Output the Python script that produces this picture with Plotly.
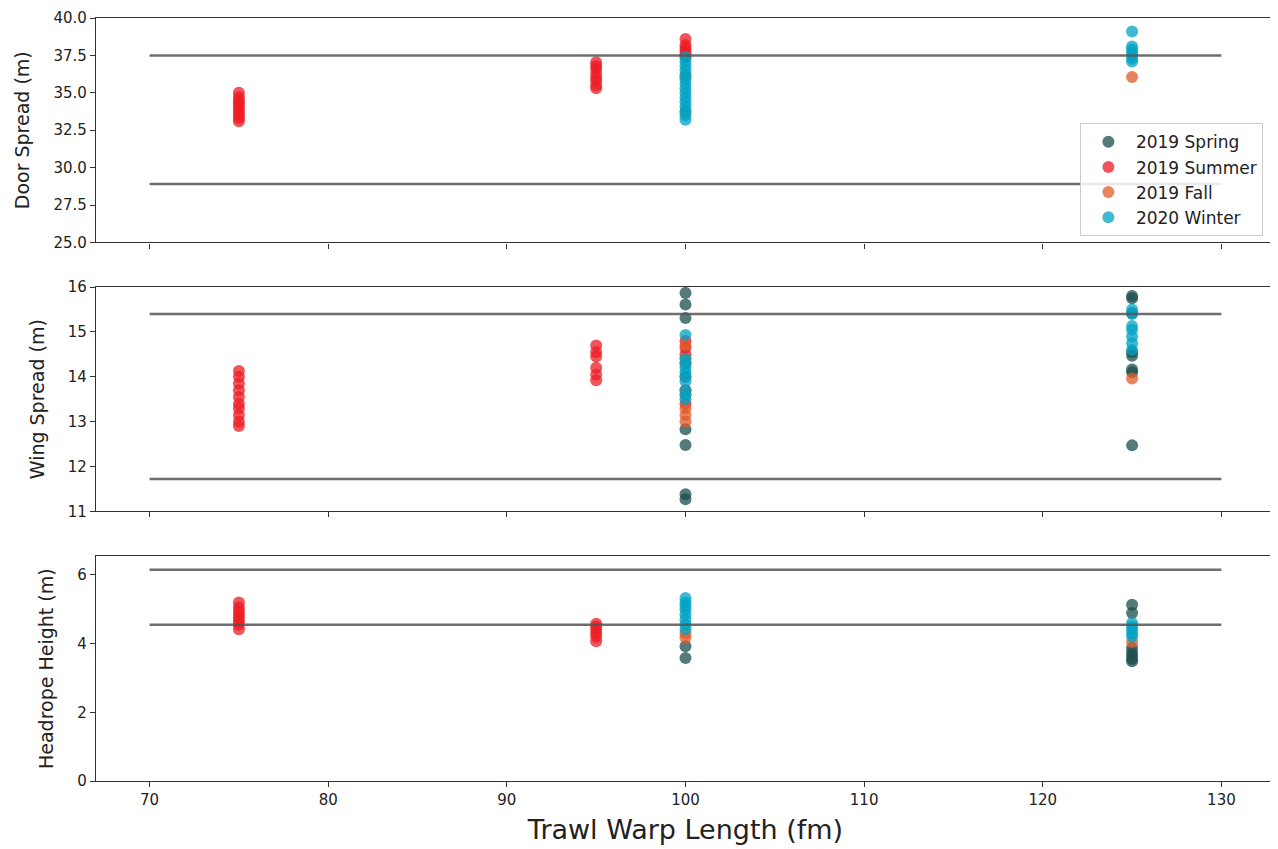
import plotly.graph_objects as go

# ---------------- data ----------------
seasons = ["2019 Spring", "2019 Summer", "2019 Fall", "2020 Winter"]
colors = ["#1b4d4d", "#ec1c24", "#e05b28", "#00a3c3"]

# Door spread (m)
door_spring_x = []
door_spring_y = []
door_summer_x = [75]*10 + [95]*8 + [100]*6
door_summer_y = [33.1, 33.3, 33.5, 33.7, 33.9, 34.1, 34.3, 34.5, 34.7, 35.0,
                 35.3, 35.5, 35.8, 36.0, 36.3, 36.6, 36.8, 37.05,
                 37.4, 37.6, 37.8, 38.0, 38.2, 38.6]
door_fall_x = [100, 100, 125]
door_fall_y = [33.7, 36.1, 36.05]
door_winter_x = [100]*15 + [125]*7
door_winter_y = [33.2, 33.5, 33.8, 34.1, 34.4, 34.7, 35.0, 35.3, 35.6, 35.9, 36.2, 36.5, 36.8, 37.1, 37.4,
                 37.1, 37.3, 37.5, 37.7, 37.9, 38.1, 39.1]

# Wing spread (m)
wing_spring_x = [100]*7 + [125]*8
wing_spring_y = [15.87, 15.61, 15.31, 12.83, 12.48, 11.38, 11.27,
                 15.8, 15.75, 15.42, 14.55, 14.47, 14.16, 14.1, 12.47]
wing_summer_x = [75]*10 + [95]*6 + [100]*7
wing_summer_y = [12.9, 13.0, 13.15, 13.3, 13.4, 13.55, 13.7, 13.85, 14.0, 14.13,
                 13.92, 14.05, 14.2, 14.45, 14.55, 14.7,
                 13.4, 13.7, 14.0, 14.3, 14.5, 14.65, 14.8]
wing_fall_x = [100]*6 + [125]
wing_fall_y = [13.0, 13.15, 13.3, 13.6, 14.4, 14.7, 13.96]
wing_winter_x = [100]*10 + [125]*7
wing_winter_y = [13.5, 13.6, 13.7, 13.9, 14.0, 14.1, 14.2, 14.3, 14.4, 14.93,
                 14.6, 14.75, 14.9, 15.05, 15.13, 15.4, 15.5]

# Headrope height (m)
head_spring_x = [100]*2 + [125]*7
head_spring_y = [3.92, 3.58, 5.13, 4.89, 3.88, 3.75, 3.65, 3.55, 3.49]
head_summer_x = [75]*8 + [95]*6
head_summer_y = [4.42, 4.55, 4.65, 4.75, 4.85, 4.95, 5.05, 5.2,
                 4.07, 4.2, 4.3, 4.4, 4.5, 4.58]
head_fall_x = [100, 100, 125]
head_fall_y = [4.17, 4.3, 4.05]
head_winter_x = [100]*8 + [125]*5
head_winter_y = [4.42, 4.55, 4.7, 4.85, 5.0, 5.1, 5.2, 5.33,
                 4.2, 4.3, 4.4, 4.5, 4.6]

# Reference limits
limit_x = [70, 130]
door_limits = [37.5, 28.9]
wing_limits = [15.4, 11.72]
head_limits = [6.15, 4.55]

x_ticks = [70, 80, 90, 100, 110, 120, 130]

# ---------------- figure ----------------
panels = [
    ("y", [(door_spring_x, door_spring_y), (door_summer_x, door_summer_y),
           (door_fall_x, door_fall_y), (door_winter_x, door_winter_y)], door_limits),
    ("y2", [(wing_spring_x, wing_spring_y), (wing_summer_x, wing_summer_y),
            (wing_fall_x, wing_fall_y), (wing_winter_x, wing_winter_y)], wing_limits),
    ("y3", [(head_spring_x, head_spring_y), (head_summer_x, head_summer_y),
            (head_fall_x, head_fall_y), (head_winter_x, head_winter_y)], head_limits),
]
xrefs = {"y": "x", "y2": "x2", "y3": "x3"}

fig = go.Figure()
for si, name in enumerate(seasons):
    shown = False
    for pi, (yref, series, _) in enumerate(panels):
        xs, ys = series[si]
        show = (not shown) and len(xs) > 0
        if show:
            shown = True
        fig.add_trace(go.Scatter(
            x=xs, y=ys, mode="markers", name=name,
            legendgroup=name, showlegend=show,
            marker=dict(color=colors[si], size=12, opacity=0.75, line=dict(width=0)),
            xaxis=xrefs[yref], yaxis=yref,
        ))

for yref, _, lims in panels:
    for v in lims:
        fig.add_trace(go.Scatter(
            x=limit_x, y=[v, v], mode="lines", showlegend=False, hoverinfo="skip",
            line=dict(color="rgba(85,85,85,0.85)", width=2.5),
            xaxis=xrefs[yref], yaxis=yref,
        ))

font_family = "DejaVu Sans, Arial, sans-serif"
tickfont = dict(family=font_family, size=15, color="#222")
axis_common = dict(showline=True, linecolor="#333", linewidth=1.2, mirror=True,
                   ticks="outside", ticklen=5, tickcolor="#333", showgrid=False,
                   zeroline=False, tickfont=tickfont, automargin=False,
                   ticklabeloverflow="allow")
ytitle_font = dict(size=19, family=font_family, color="#222")

xr = [67, 133]
fig.update_layout(
    width=1278, height=849,
    margin=dict(l=88, r=11, t=10, b=76),
    paper_bgcolor="white", plot_bgcolor="white",
    font=dict(family=font_family, color="#222"),
    xaxis=dict(domain=[0, 1], range=xr, anchor="y", tickvals=x_ticks,
               showticklabels=False, **axis_common),
    xaxis2=dict(domain=[0, 1], range=xr, anchor="y2", tickvals=x_ticks,
                showticklabels=False, matches="x", **axis_common),
    xaxis3=dict(domain=[0, 1], range=xr, anchor="y3", tickvals=x_ticks,
                matches="x",
                title=dict(text="Trawl Warp Length (fm)", font=dict(size=27, family=font_family, color="#222"), standoff=12),
                **axis_common),
    yaxis=dict(domain=[0.7058, 1.0], range=[25, 40], dtick=2.5, tick0=25, tickformat=".1f",
               title=dict(text="Door Spread (m)", font=ytitle_font, standoff=18),
               **axis_common),
    yaxis2=dict(domain=[0.3535, 0.6473], range=[11, 16], dtick=1,
                title=dict(text="Wing Spread (m)", font=ytitle_font, standoff=18),
                **axis_common),
    yaxis3=dict(domain=[0.0, 0.2944], range=[0, 6.54], dtick=2,
                title=dict(text="Headrope Height (m)", font=ytitle_font, standoff=18),
                **axis_common),
    legend=dict(x=0.8345, y=0.862, xanchor="left", yanchor="top",
                bgcolor="rgba(255,255,255,0.85)", bordercolor="#cccccc", borderwidth=1,
                font=dict(family=font_family, size=17, color="#222"),
                itemwidth=45, itemsizing="constant", tracegroupgap=0),
)

fig.write_html("out.html")
